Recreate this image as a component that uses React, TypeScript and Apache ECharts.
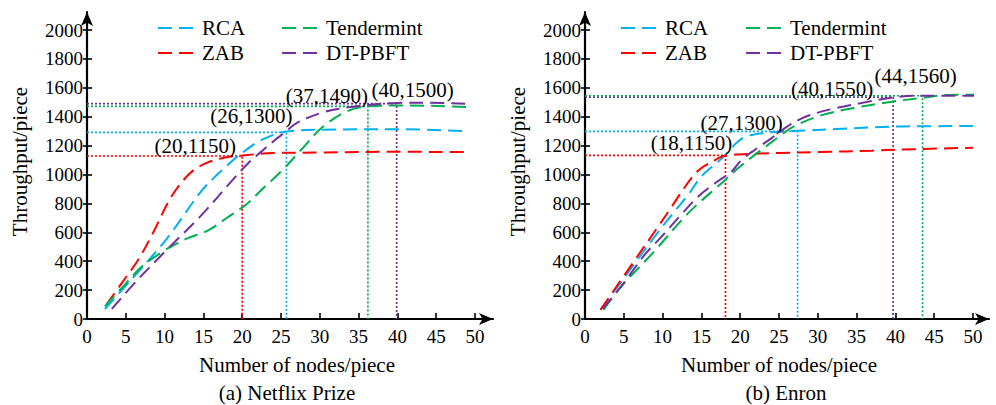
import React, { useEffect, useRef } from 'react';
import * as echarts from 'echarts';

// ---------- data ----------
const xTickValues = [0, 5, 10, 15, 20, 25, 30, 35, 40, 45, 50];
const yTickValues = [0, 200, 400, 600, 800, 1000, 1200, 1400, 1600, 1800, 2000];

const methodNames = ['RCA', 'ZAB', 'Tendermint', 'DT-PBFT'];
const methodColors = ['#00B0F0', '#FF0000', '#00B050', '#7030A0'];
const legendRows = [['RCA', 'Tendermint'], ['ZAB', 'DT-PBFT']];

const xAxisTitle = 'Number of nodes/piece';
const yAxisTitle = 'Throughput/piece';

// (a) Netflix Prize
const netflixRCA = [[2.3, 68], [6, 290], [10.3, 557], [14.7, 883], [17, 1010], [19, 1107], [20.5, 1170], [22, 1225], [24.5, 1283], [26, 1300], [30, 1310], [40, 1313], [49, 1300]];
const netflixZAB = [[2.5, 100], [4.5, 250], [6.6, 410], [8.5, 595], [10.9, 849], [13.3, 1010], [15.2, 1075], [17.8, 1118], [20, 1132], [24, 1148], [30, 1152], [40, 1157], [49, 1155]];
const netflixTendermint = [[2.3, 87], [5, 245], [7, 360], [10, 475], [11.5, 520], [13, 560], [15.6, 613], [18, 699], [20.6, 796], [22.5, 895], [25, 1020], [27.5, 1165], [30.4, 1330], [33.5, 1437], [36, 1471], [40.8, 1478], [49.3, 1467]];
const netflixDTPBFT = [[3.2, 70], [6.5, 270], [10.3, 480], [14.6, 710], [18.6, 952], [20.8, 1080], [22.5, 1160], [24, 1229], [25.7, 1300], [27, 1356], [30.4, 1430], [33.9, 1467], [36.5, 1483], [40, 1495], [44, 1497], [49.3, 1488]];

// (b) Enron
const enronRCA = [[2, 64], [6, 355], [9, 572], [11.2, 722], [13.3, 860], [15, 987], [17.2, 1091], [18, 1130], [19.5, 1218], [20.7, 1262], [22.9, 1287], [25.9, 1300], [27.4, 1302], [32.4, 1315], [41, 1333], [50, 1335]];
const enronZAB = [[2, 64], [6, 375], [9.3, 630], [11.2, 779], [12.7, 900], [14.6, 1028], [17, 1107], [18, 1130], [22, 1144], [25, 1149], [30, 1155], [37, 1165], [43, 1176], [50, 1185]];
const enronTendermint = [[2.4, 64], [4.7, 226], [8.8, 461], [13.4, 738], [17.7, 945], [19.5, 1033], [21.5, 1120], [23.7, 1210], [25.2, 1270], [26.8, 1330], [30.3, 1407], [34.6, 1460], [38.9, 1499], [43.2, 1529], [46.6, 1550], [50.5, 1552]];
const enronDTPBFT = [[2.3, 70], [5, 250], [7.7, 445], [9.9, 572], [12.2, 710], [14.6, 848], [16.8, 941], [18.9, 1021], [20.2, 1102], [22, 1175], [24, 1250], [26, 1330], [28, 1390], [30, 1428], [32.4, 1460], [36.7, 1506], [39.7, 1534], [43.2, 1545], [50.5, 1545]];

// annotated points (guide corners as drawn, with their printed labels)
const netflixGuideSeries = ['ZAB', 'RCA', 'Tendermint', 'DT-PBFT'];
const netflixGuideX = [20, 25.7, 36.2, 39.9];
const netflixGuideY = [1128, 1292, 1472, 1490];
const netflixGuideLabels = ['(20,1150)', '(26,1300)', '(37,1490)', '(40,1500)'];

const enronGuideSeries = ['ZAB', 'RCA', 'DT-PBFT', 'Tendermint'];
const enronGuideX = [18.1, 27.4, 39.7, 43.5];
const enronGuideY = [1132, 1298, 1535, 1545];
const enronGuideLabels = ['(18,1150)', '(27,1300)', '(40,1550)', '(44,1560)'];

// ---------- layout / style ----------
const FONT = 'Liberation Serif';
const TICK_FONT = `19px ${FONT}`;
const TEXT_FONT = `21px ${FONT}`;
const DASH = [14, 7];
const netflixLabelOffsets = [[-47, -10], [-35, -16], [-41, -10], [16, -14]];
const enronLabelOffsets = [[-34, -12], [-56, -8], [-61, -8], [-7, -20]];

const panels = [
  {
    xi: 0, yi: 0, tag: 'a',
    guideSeries: netflixGuideSeries, guideX: netflixGuideX, guideY: netflixGuideY,
    guideLabels: netflixGuideLabels, offsets: netflixLabelOffsets,
    nameShift: 16, caption: '(a) Netflix Prize', captionX: 287,
    legendCols: [158, 282],
  },
  {
    xi: 1, yi: 2, tag: 'b',
    guideSeries: enronGuideSeries, guideX: enronGuideX, guideY: enronGuideY,
    guideLabels: enronGuideLabels, offsets: enronLabelOffsets,
    nameShift: 0, caption: '(b) Enron', captionX: 786,
    legendCols: [621, 746],
  },
];

function colorOf(name: string) {
  return methodColors[methodNames.indexOf(name)];
}

function curve(name: string, data: number[][], xi: number, yi: number) {
  const c = colorOf(name);
  return {
    type: 'line',
    name,
    data,
    xAxisIndex: xi,
    yAxisIndex: yi,
    smooth: 0.35,
    symbol: 'none',
    silent: true,
    itemStyle: { color: c },
    lineStyle: { color: c, width: 2, type: DASH },
    z: 3,
  };
}

function guides(p: any) {
  return p.guideSeries.map((n: string, i: number) => ({
    type: 'line',
    name: p.tag + ' guide ' + n,
    data: [[0, p.guideY[i]], [p.guideX[i], p.guideY[i]], [p.guideX[i], 0]],
    xAxisIndex: p.xi,
    yAxisIndex: p.yi,
    symbol: 'none',
    silent: true,
    lineStyle: { color: colorOf(n), width: 1.7, type: [2, 2] },
    z: 2,
  }));
}

function dataXAxis(gridIndex: number) {
  return {
    type: 'value',
    gridIndex,
    min: 0,
    max: 50,
    interval: 5,
    position: 'bottom',
    axisLine: { show: false },
    axisTick: { show: true, inside: true, length: 6, lineStyle: { color: '#000', width: 1.6 } },
    axisLabel: { show: false },
    splitLine: { show: false },
  };
}

function dataYAxes(gridIndex: number) {
  const base = {
    type: 'value',
    gridIndex,
    min: 0,
    max: 2000,
    interval: 200,
    position: 'left',
    axisLine: { show: false },
    axisLabel: { show: false },
    splitLine: { show: false },
  };
  return [
    { ...base, axisTick: { show: true, inside: false, length: 4, lineStyle: { color: '#000', width: 1.6 } } },
    { ...base, axisTick: { show: true, inside: true, length: 5, lineStyle: { color: '#000', width: 1.6 } } },
  ];
}

function frameAxes(gridIndex: number) {
  const line = {
    show: true,
    symbol: ['none', 'arrow'],
    symbolSize: [9, 14],
    lineStyle: { color: '#000', width: 2.2 },
  };
  const base = { type: 'value', gridIndex, min: 0, max: 1, axisLine: line, axisTick: { show: false }, axisLabel: { show: false }, splitLine: { show: false } };
  return { x: { ...base, position: 'bottom' }, y: { ...base, position: 'left' } };
}

function txt(text: string, x: number, y: number, font: string, align: string, vAlign: string, rotation = 0) {
  return {
    type: 'text',
    x,
    y,
    rotation,
    silent: true,
    z: 10,
    style: {
      text,
      font,
      fill: '#000',
      align,
      verticalAlign: vAlign,
      textAlign: align,
      textVerticalAlign: vAlign,
    },
  };
}

export default function App() {
  const ref = useRef<HTMLDivElement>(null);
  useEffect(() => {
    document.body.style.margin = '0';
    if (!ref.current) return;
    const chart = echarts.init(ref.current, undefined, { renderer: 'svg' });
    const fl = frameAxes(2);
    const fr = frameAxes(3);
    const option = {
      animation: false,
      grid: [
        { left: 87, top: 30, width: 388, height: 289 },
        { left: 585, top: 30, width: 388, height: 289 },
        { left: 87, top: 12, width: 406, height: 307 },
        { left: 585, top: 12, width: 404, height: 307 },
      ],
      xAxis: [dataXAxis(0), dataXAxis(1), fl.x, fr.x],
      yAxis: [...dataYAxes(0), ...dataYAxes(1), fl.y, fr.y],
      series: [
        ...guides(panels[0]),
        ...guides(panels[1]),
        curve('RCA', netflixRCA, 0, 0),
        curve('ZAB', netflixZAB, 0, 0),
        curve('Tendermint', netflixTendermint, 0, 0),
        curve('DT-PBFT', netflixDTPBFT, 0, 0),
        curve('RCA', enronRCA, 1, 2),
        curve('ZAB', enronZAB, 1, 2),
        curve('Tendermint', enronTendermint, 1, 2),
        curve('DT-PBFT', enronDTPBFT, 1, 2),
      ],
    };
    chart.setOption(option as any);

    // texts placed through the chart's own scales
    const els: any[] = [];
    panels.forEach((p) => {
      const toPx = (v: number[]) =>
        chart.convertToPixel({ xAxisIndex: p.xi, yAxisIndex: p.yi } as any, v) as unknown as number[];
      xTickValues.forEach((v) => {
        const pt = toPx([v, 0]);
        els.push(txt(String(v), pt[0], pt[1] + 8, TICK_FONT, 'center', 'top'));
      });
      yTickValues.forEach((v) => {
        const pt = toPx([0, v]);
        els.push(txt(String(v), pt[0] - 4, pt[1], TICK_FONT, 'right', 'middle'));
      });
      const o = toPx([0, 0]);
      const far = toPx([50, 2000]);
      els.push(txt(xAxisTitle, (o[0] + far[0]) / 2 + p.nameShift, o[1] + 46, TEXT_FONT, 'center', 'middle'));
      els.push(txt(yAxisTitle, o[0] - 67, (o[1] + far[1]) / 2 - 13, TEXT_FONT, 'center', 'middle', Math.PI / 2));
      p.guideX.forEach((gx: number, i: number) => {
        const pt = toPx([gx, p.guideY[i]]);
        els.push(txt(p.guideLabels[i], pt[0] + p.offsets[i][0], pt[1] + p.offsets[i][1], TEXT_FONT, 'center', 'middle'));
      });
      els.push(txt(p.caption, p.captionX, 393, TEXT_FONT, 'center', 'middle'));
      legendRows.forEach((row, r) => {
        const cy = 28 + r * 25;
        row.forEach((name, c) => {
          const lx = p.legendCols[c];
          els.push({
            type: 'line',
            silent: true,
            z: 10,
            shape: { x1: lx, y1: cy, x2: lx + 38, y2: cy },
            style: { stroke: colorOf(name), lineWidth: 2, lineDash: DASH },
          });
          els.push(txt(name, lx + 44, cy, TEXT_FONT, 'left', 'middle'));
        });
      });
    });
    chart.setOption({ graphic: { elements: els } } as any);
    return () => chart.dispose();
  }, []);
  return <div ref={ref} style={{ width: 996, height: 405 }} />;
}
